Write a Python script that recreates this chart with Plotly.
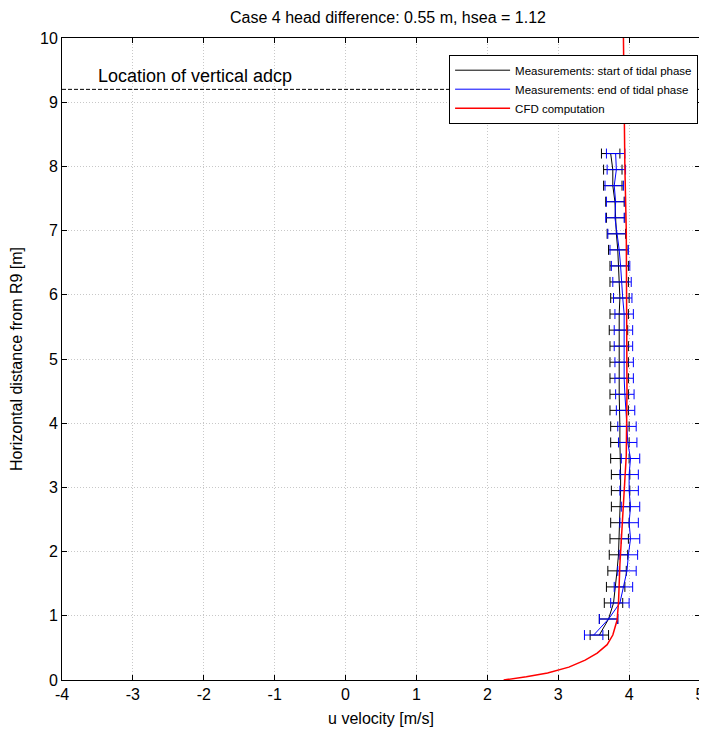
import plotly.graph_objects as go

# Measurement heights [m]
y_meas = [0.7, 0.95, 1.2, 1.45, 1.7, 1.95, 2.2, 2.45, 2.7, 2.95, 3.2, 3.45, 3.7, 3.95,
          4.2, 4.45, 4.7, 4.95, 5.2, 5.45, 5.7, 5.95, 6.2, 6.45, 6.7, 6.95, 7.2, 7.45,
          7.7, 7.95, 8.2]
# Start of tidal phase (black)
u_start = [3.58, 3.71, 3.78, 3.81, 3.83, 3.85, 3.86, 3.87, 3.88, 3.88, 3.88, 3.87, 3.87, 3.87,
           3.86, 3.86, 3.86, 3.86, 3.86, 3.85, 3.86, 3.87, 3.86, 3.86, 3.84, 3.82, 3.81, 3.80,
           3.77, 3.77, 3.74]
err_start = [0.13] * len(y_meas)
# End of tidal phase (blue)
u_end = [3.50, 3.71, 3.87, 3.92, 3.97, 3.99, 4.02, 4.00, 4.02, 4.00, 4.00, 4.02, 3.98, 3.97,
         3.95, 3.94, 3.93, 3.93, 3.92, 3.92, 3.93, 3.91, 3.90, 3.88, 3.86, 3.83, 3.80, 3.81,
         3.79, 3.82, 3.81]
err_end = [0.13] * len(y_meas)
# CFD computation (red)
y_cfd = [0, 0.05, 0.11, 0.2, 0.31, 0.42, 0.55, 0.7, 0.93, 1.2, 1.8, 2.5, 3.5, 4.5, 6.0, 7.0,
         8.0, 9.0, 10.0]
u_cfd = [2.23, 2.55, 2.85, 3.15, 3.38, 3.55, 3.69, 3.77, 3.83, 3.85, 3.87, 3.91, 3.96, 3.97,
         3.97, 3.96, 3.94, 3.93, 3.92]

adcp_y = 9.2
x_range = [-4, 5]
y_range = [0, 10]
x_ticks = [-4, -3, -2, -1, 0, 1, 2, 3, 4, 5]
x_ticktext = ["-4", "-3", "-2", "-1", "0", "1", "2", "3", "4", "5"]
y_ticks = [0, 1, 2, 3, 4, 5, 6, 7, 8, 9, 10]
y_ticktext = ["0", "1", "2", "3", "4", "5", "6", "7", "8", "9", "10"]

fig = go.Figure()
fig.add_trace(go.Scatter(x=x_range, y=[adcp_y, adcp_y], mode="lines",
                         line=dict(color="black", width=1, dash="4px,2px"), showlegend=False,
                         hoverinfo="skip"))
fig.add_trace(go.Scatter(x=u_start, y=y_meas, mode="lines", name="Measurements: start of tidal phase",
                         line=dict(color="black", width=1),
                         error_x=dict(type="data", array=err_start, color="black", thickness=1, width=5)))
fig.add_trace(go.Scatter(x=u_end, y=y_meas, mode="lines", name="Measurements: end of tidal phase",
                         line=dict(color="#0000ff", width=1),
                         error_x=dict(type="data", array=err_end, color="#0000ff", thickness=1, width=5)))
fig.add_trace(go.Scatter(x=u_cfd, y=y_cfd, mode="lines", name="CFD computation",
                         line=dict(color="#ff0000", width=1.5)))

fig.add_annotation(x=-3.52, y=adcp_y, text="Location of vertical adcp", showarrow=False,
                   xanchor="left", yanchor="bottom", yshift=1,
                   font=dict(size=18, color="black"))

axis_common = dict(showline=True, linecolor="black", linewidth=1, mirror="ticks",
                   ticks="inside", ticklen=5, tickcolor="black", automargin=False,
                   ticklabeloverflow="allow",
                   showgrid=True, gridcolor="#c8c8c8", griddash="1px,2px", gridwidth=1,
                   zeroline=False, tickfont=dict(size=16, color="black"))

fig.update_layout(
    width=699, height=725,
    margin=dict(l=54, r=7, t=30, b=53),
    paper_bgcolor="white", plot_bgcolor="white",
    font=dict(family="Liberation Sans, Arial, sans-serif", color="black"),
    title=dict(text="Case 4 head difference: 0.55 m, hsea = 1.12", x=0.5436, xanchor="center",
               y=0.9876, yanchor="middle", font=dict(size=16, color="black")),
    xaxis=dict(range=x_range, tickvals=x_ticks, ticktext=x_ticktext,
               title=dict(text="u velocity [m/s]", font=dict(size=16), standoff=10),
               **axis_common),
    yaxis=dict(range=y_range, tickvals=y_ticks, ticktext=y_ticktext,
               title=dict(text="Horizontal distance from R9 [m]", font=dict(size=16), standoff=13),
               **axis_common),
    legend=dict(x=0.997, y=0.974, xanchor="right", yanchor="top", bgcolor="white",
                bordercolor="black", borderwidth=1, font=dict(size=11.5, color="black"),
                tracegroupgap=0, itemwidth=55),
    showlegend=True,
)

fig.write_html("out.html")
